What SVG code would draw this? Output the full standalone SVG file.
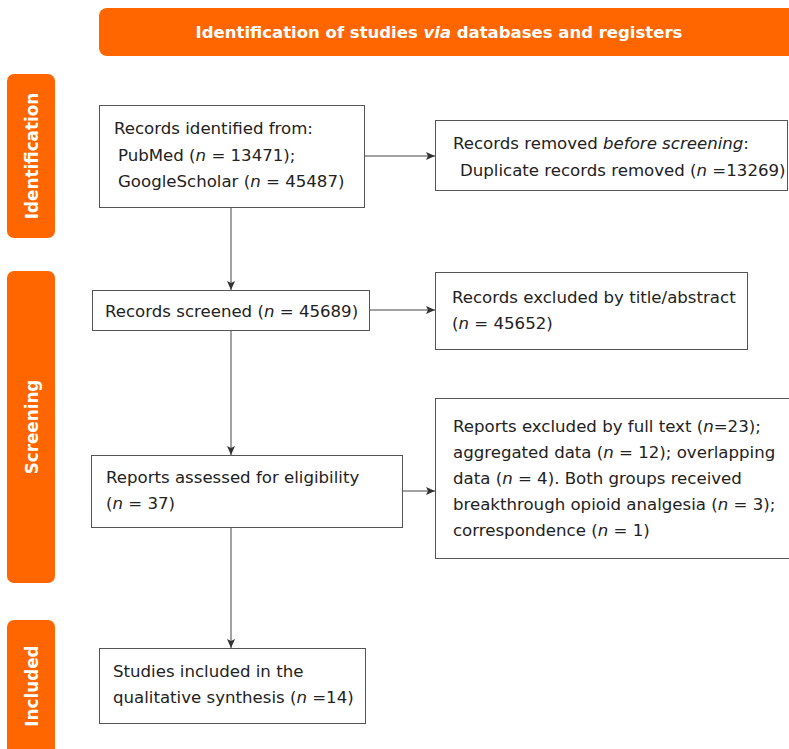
<svg xmlns="http://www.w3.org/2000/svg" width="789" height="749" viewBox="0 0 789 749">
<defs>
<marker id="ah" markerWidth="10" markerHeight="8" refX="9" refY="4" orient="auto" markerUnits="userSpaceOnUse">
<path d="M0,0 L9,4 L0,8 L2,4 Z" fill="#333"/>
</marker>
<style>
.band{fill:#FF6600}
.bt{fill:#fff;font-family:"DejaVu Sans",sans-serif;font-weight:bold;font-size:16.8px}
.box{fill:#fff;stroke:#555;stroke-width:1}
.t{fill:#222;font-family:"DejaVu Sans",sans-serif;font-size:16.6px}
.i{font-style:italic}
.c{stroke:#444;stroke-width:1;fill:none;marker-end:url(#ah)}
</style>
</defs>
<rect width="789" height="749" fill="#fff"/>
<g id="header">
<rect class="band" x="99" y="8" width="700" height="48" rx="8"/>
<text class="bt" x="439" y="38" text-anchor="middle" style="font-size:16.5px">Identification of studies <tspan class="i">via</tspan> databases and registers</text>
</g>
<g id="phase-identification">
<rect class="band" x="7" y="74" width="48" height="164" rx="7"/>
<text class="bt" transform="translate(38,156) rotate(-90)" text-anchor="middle">Identification</text>
</g>
<g id="phase-screening">
<rect class="band" x="7" y="271" width="48" height="312" rx="7"/>
<text class="bt" transform="translate(38,427) rotate(-90)" text-anchor="middle">Screening</text>
</g>
<g id="phase-included">
<rect class="band" x="7" y="620" width="48" height="140" rx="7"/>
<text class="bt" transform="translate(38,686) rotate(-90)" text-anchor="middle">Included</text>
</g>
<g id="connectors">
<line class="c" x1="231" y1="207" x2="231" y2="290"/>
<line class="c" x1="364" y1="156" x2="435" y2="156"/>
<line class="c" x1="369" y1="310" x2="435" y2="310"/>
<line class="c" x1="231" y1="330" x2="231" y2="455"/>
<line class="c" x1="402" y1="491" x2="435" y2="491"/>
<line class="c" x1="231" y1="527" x2="231" y2="648"/>
</g>
<g id="identified">
<rect class="box" x="99.5" y="105.5" width="265" height="102"/>
<text class="t" x="114" y="134">Records identified from:</text>
<text class="t" x="118" y="161">PubMed (<tspan class="i">n</tspan> = 13471);</text>
<text class="t" x="118" y="187">GoogleScholar (<tspan class="i">n</tspan> = 45487)</text>
</g>
<g id="removed">
<rect class="box" x="435.5" y="120.5" width="352" height="70"/>
<text class="t" x="453" y="149">Records removed <tspan class="i">before screening</tspan>:</text>
<text class="t" x="460" y="176">Duplicate records removed (<tspan class="i">n</tspan> =13269)</text>
</g>
<g id="screened">
<rect class="box" x="92.5" y="290.5" width="277" height="40"/>
<text class="t" x="105" y="317">Records screened (<tspan class="i">n</tspan> = 45689)</text>
</g>
<g id="excluded-title">
<rect class="box" x="435.5" y="272.5" width="312" height="77"/>
<text class="t" x="452" y="303">Records excluded by title/abstract</text>
<text class="t" x="452" y="329">(<tspan class="i">n</tspan> = 45652)</text>
</g>
<g id="assessed">
<rect class="box" x="91.5" y="455.5" width="311" height="72"/>
<text class="t" x="106" y="483">Reports assessed for eligibility</text>
<text class="t" x="106" y="509">(<tspan class="i">n</tspan> = 37)</text>
</g>
<g id="excluded-fulltext">
<rect class="box" x="435.5" y="398.5" width="360" height="160"/>
<text class="t" x="453" y="432">Reports excluded by full text (<tspan class="i">n</tspan>=23);</text>
<text class="t" x="453" y="458">aggregated data (<tspan class="i">n</tspan> = 12); overlapping</text>
<text class="t" x="453" y="484">data (<tspan class="i">n</tspan> = 4). Both groups received</text>
<text class="t" x="453" y="510">breakthrough opioid analgesia (<tspan class="i">n</tspan> = 3);</text>
<text class="t" x="453" y="536">correspondence (<tspan class="i">n</tspan> = 1)</text>
</g>
<g id="included">
<rect class="box" x="99.5" y="648.5" width="266" height="75"/>
<text class="t" x="113" y="677">Studies included in the</text>
<text class="t" x="113" y="703">qualitative synthesis (<tspan class="i">n</tspan> =14)</text>
</g>
</svg>
